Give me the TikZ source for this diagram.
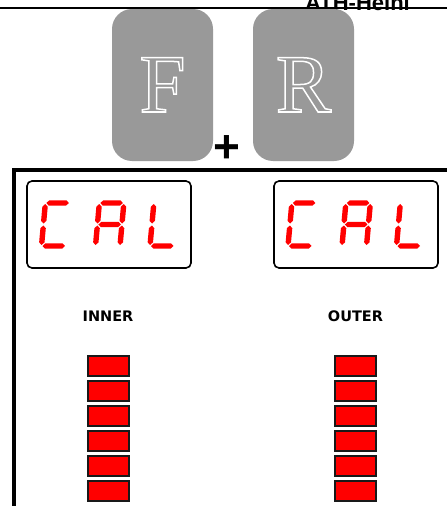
\documentclass[tikz,border=0pt]{standalone}
\usepackage{fontspec}
\setmainfont{Liberation Serif}
\newfontfamily\arialfont{Liberation Sans}
\newfontfamily\lblfont{DejaVu Sans}
\newfontfamily\keyfont{Liberation Serif}
\definecolor{keygray}{HTML}{999999}
\definecolor{segred}{HTML}{FF0000}
\definecolor{barred}{HTML}{FF0000}
\def\segW{24.5}\def\segH{43}\def\segT{2.7}\def\segG{1.0}
\newcommand\hseg[1]{\fill[segred] (\segG,#1) -- ++(\segT,\segT) -- ({\segW-\segG-\segT},{#1+\segT}) -- ({\segW-\segG},#1) -- ({\segW-\segG-\segT},{#1-\segT}) -- ({\segG+\segT},{#1-\segT}) -- cycle;}
\newcommand\vseg[3]{\fill[segred] (#1,#2) -- ++(\segT,\segT) -- ({#1+\segT},{#3-\segT}) -- (#1,#3) -- ({#1-\segT},{#3-\segT}) -- ({#1-\segT},{#2+\segT}) -- cycle;}
\newcommand\sgA{\hseg{\segH}}
\newcommand\sgG{\hseg{\segH/2}}
\newcommand\sgD{\hseg{0}}
\newcommand\sgF{\vseg{0}{\segH/2+\segG}{\segH-\segG}}
\newcommand\sgE{\vseg{0}{\segG}{\segH/2-\segG}}
\newcommand\sgB{\vseg{\segW}{\segH/2+\segG}{\segH-\segG}}
\newcommand\sgC{\vseg{\segW}{\segG}{\segH/2-\segG}}
\newcommand\digC{\sgA\sgD\sgE\sgF}
\newcommand\digA{\sgA\sgB\sgC\sgE\sgF\sgG}
\newcommand\digL{\sgD\sgE\sgF}
\newcommand\digitat[3]{\begin{scope}[shift={(#1,#2)},x=1pt,y=1pt,xslant=0.09]#3\end{scope}}
\newcommand\outlined[1]{\special{pdf:literal direct 1 1 1 RG 1.5 w 2 Tr}#1\special{pdf:literal direct 0 Tr}}
\tikzset{
  keybox/.style={fill=keygray, draw=none, rounded corners=20pt, minimum width=101pt, minimum height=152pt, inner sep=0pt},
  keyletter/.style={font=\keyfont\fontsize{83}{90}\selectfont, inner sep=0pt, anchor=base, text=keygray},
  dispbox/.style={draw=black, line width=1.6pt, rounded corners=5pt, minimum width=164pt, minimum height=87pt, inner sep=0pt, fill=white},
  lbl/.style={font=\lblfont\bfseries\fontsize{14.5}{17}\selectfont, inner sep=0pt},
  bar/.style={draw=black!90, fill=barred, line width=2pt, minimum width=41pt, minimum height=20pt, inner sep=0pt},
}
\begin{document}
\begin{tikzpicture}[x=1pt,y=-1pt]
\useasboundingbox (0,0) rectangle (447,506);
% header text
\node[font=\arialfont\bfseries\fontsize{22}{26}\selectfont, inner sep=0pt, anchor=base] (hdr) at (357.5,10.5) {ATH-Heini};
\draw[line width=2pt] (-2,7.5) -- (450,7.5);
% keys
\node[keybox] (fkey) at (162.5,85) {};
\node[keybox] (rkey) at (303.5,85) {};
\node[keyletter] (fl) at (162.5,112) {\outlined{F}};
\node[keyletter] (rl) at (303.5,112) {\outlined{R}};
\node[font=\arialfont\bfseries\fontsize{46}{50}\selectfont, inner sep=0pt] (plus) at (227,149) {+};
% frame
\draw[line width=4pt] (450,170) -| (14,510);
% displays
\node[dispbox] (dispL) at (109,224.5) {};
\node[dispbox] (dispR) at (356,224.5) {};
\digitat{41.5}{246}{\digC}
\digitat{95.5}{246}{\digA}
\digitat{150}{246}{\digL}
\digitat{288}{246}{\digC}
\digitat{342}{246}{\digA}
\digitat{396.5}{246}{\digL}
% labels
\node[lbl] (inner) at (108,316) {INNER};
\node[lbl] (outer) at (355.5,316) {OUTER};
% bars
\foreach \i in {0,...,5}{
  \node[bar] (bi\i) at (108.5,{366+24.9*\i}) {};
  \node[bar] (bo\i) at (355.5,{366+24.9*\i}) {};
}
\end{tikzpicture}
\end{document}
